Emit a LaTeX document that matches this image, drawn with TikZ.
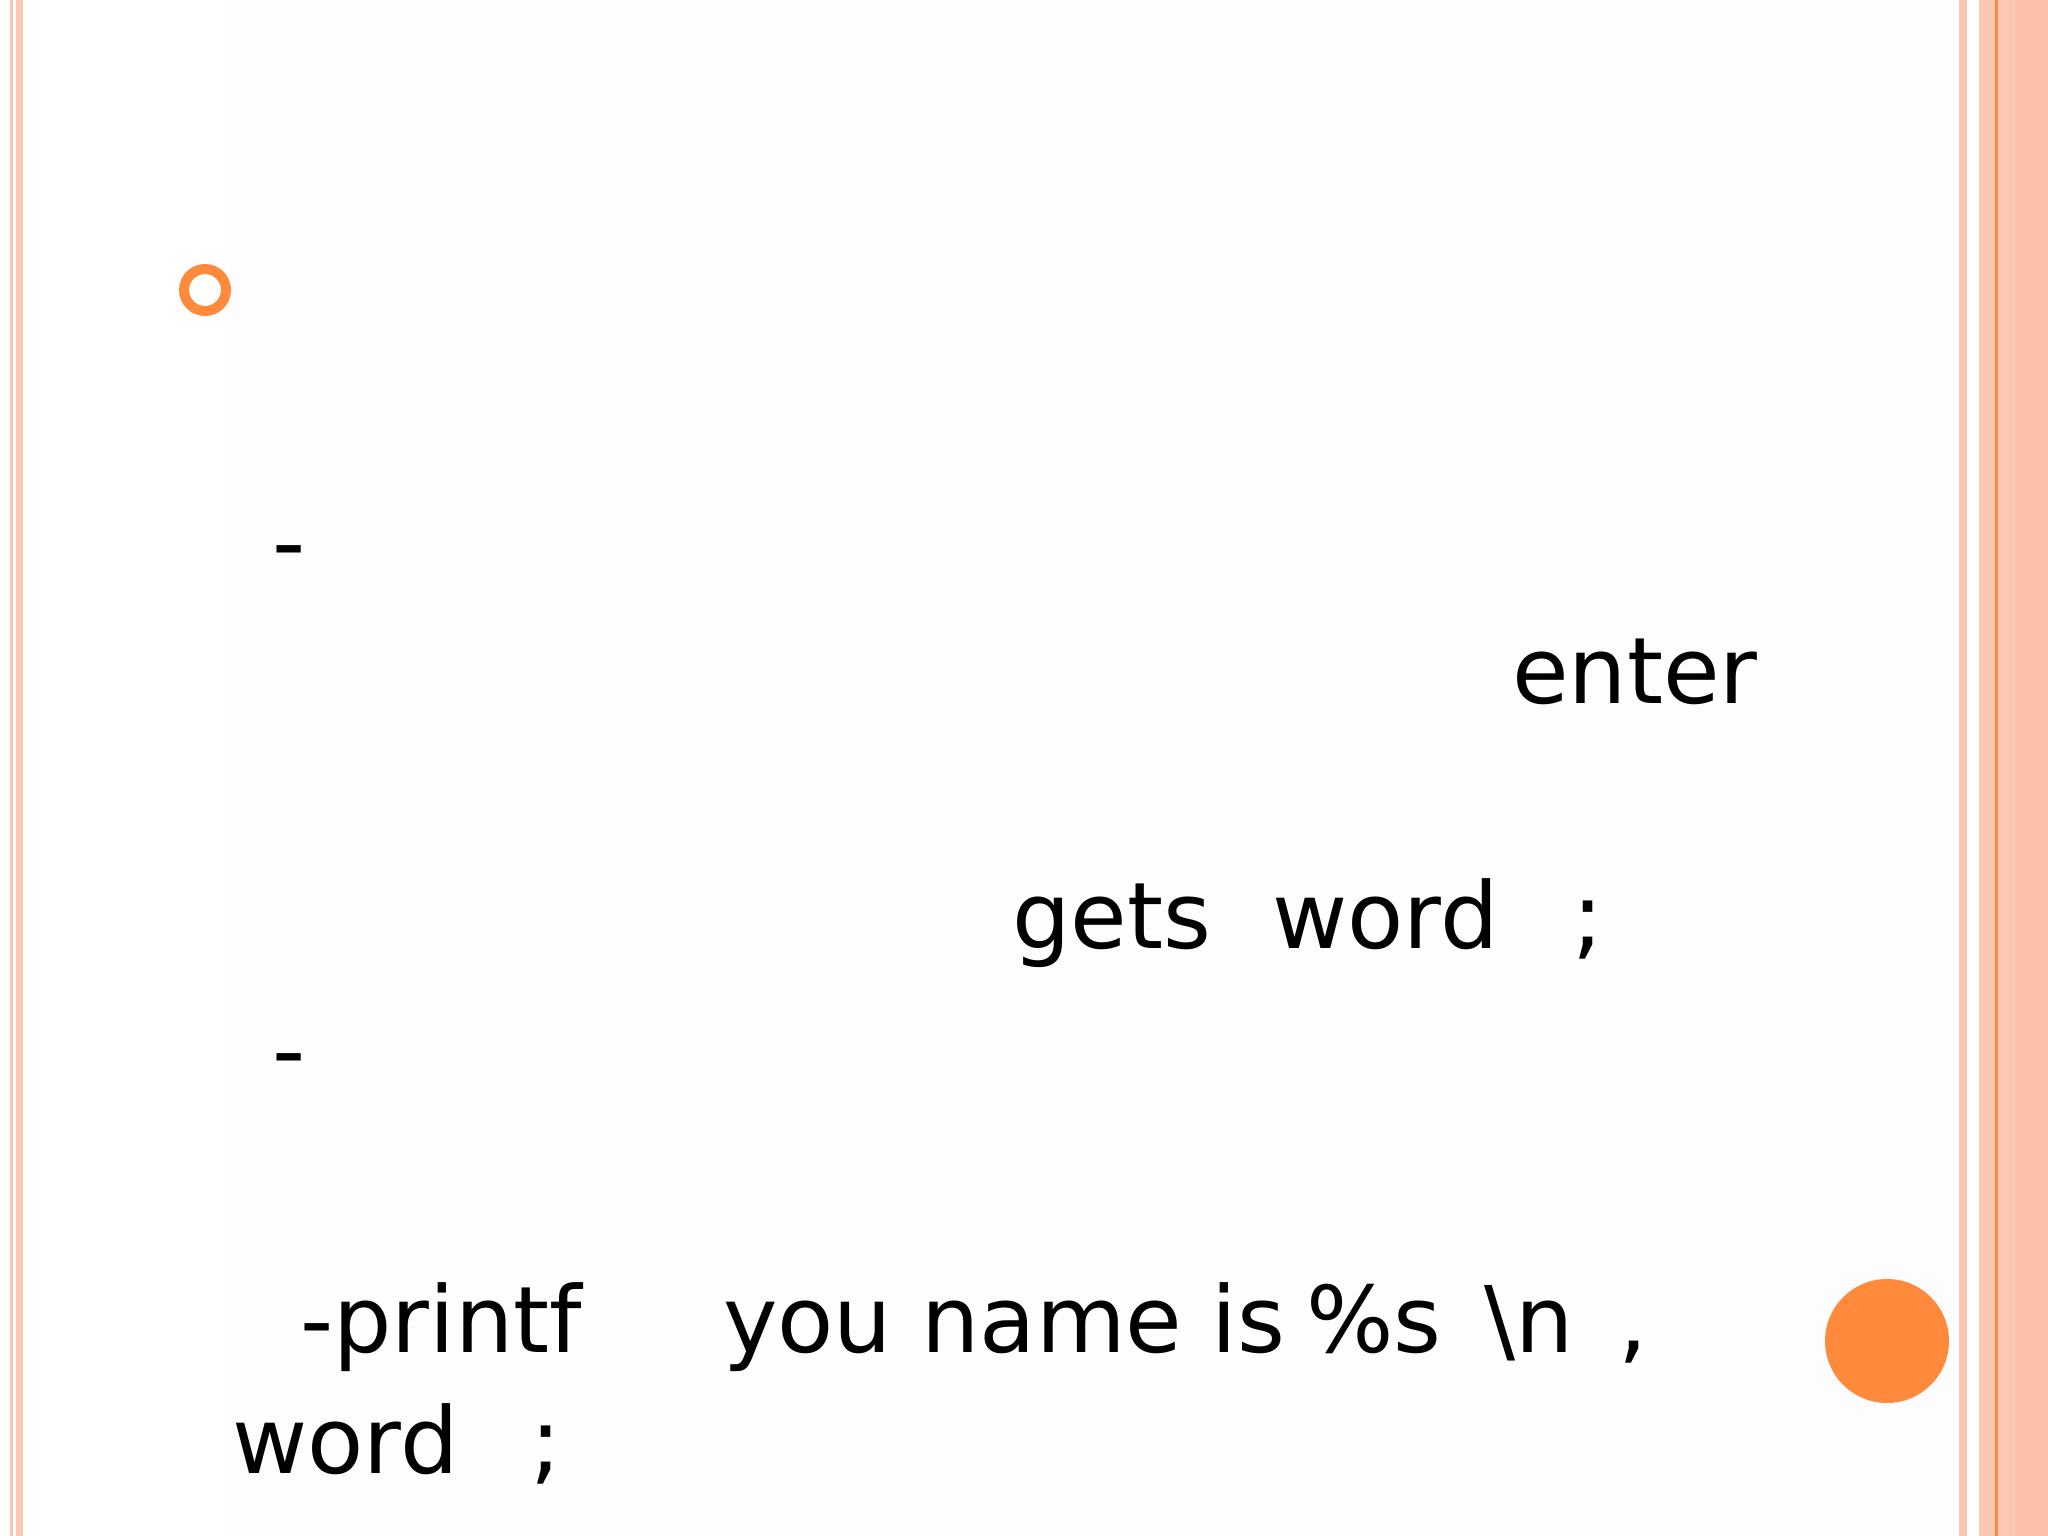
\documentclass[tikz,border=0pt]{standalone}
\usepackage{fontspec}
\setmainfont{DejaVu Sans}
\definecolor{stripe}{HTML}{FCC8B4}
\definecolor{stripedark}{HTML}{FDC0A8}
\definecolor{orng}{HTML}{FF8A3C}
\definecolor{bg}{HTML}{FDFCFE}
\begin{document}
\begin{tikzpicture}[x=1pt,y=-1pt,
  txt/.style={anchor=base west,inner sep=0pt,font=\fontsize{92}{110}\selectfont}]
\useasboundingbox (0,0) rectangle (2048,1536);
\fill[white] (0,0) rectangle (2048,1536);
\fill[bg] (230,0) rectangle (1955,1536);
% left stripes
\fill[stripe] (10,0) rectangle (13,1536);
\fill[stripe] (16,0) rectangle (23,1536);
% right stripes
\fill[stripe] (1959,0) rectangle (1967,1536);
\fill[stripe] (1979,0) rectangle (2048,1536);
\fill[stripedark] (2015,0) rectangle (2048,1536);
\fill[orng] (1995,0) rectangle (1997.5,1536);
% bullets
\node[circle,draw=orng,line width=10pt,minimum size=42pt,inner sep=0pt] (b1) at (205,290) {};
\node[circle,fill=orng,minimum size=124pt,inner sep=0pt] (b2) at (1887,1341) {};
% text
\node[txt] (d1) at (272,574) {-};
\node[txt] (t1) at (1512,703) {enter};
\node[txt] (t2) at (1012,948) {gets};
\node[txt] (t3) at (1272,948) {word};
\node[txt] (t4) at (1572,948) {;};
\node[txt] (d2) at (272,1082) {-};
\node[txt] (t5) at (300,1352) {-printf};
\node[txt] (t6) at (723,1352) {you name is};
\node[txt] (t6b) at (1306,1352) {\%s};
\node[txt] (t6c) at (1484,1352) {\textbackslash n};
\node[txt] (t7) at (1618,1352) {,};
\node[txt] (t8) at (232,1473) {word};
\node[txt] (t9) at (530,1473) {;};
\end{tikzpicture}
\end{document}
